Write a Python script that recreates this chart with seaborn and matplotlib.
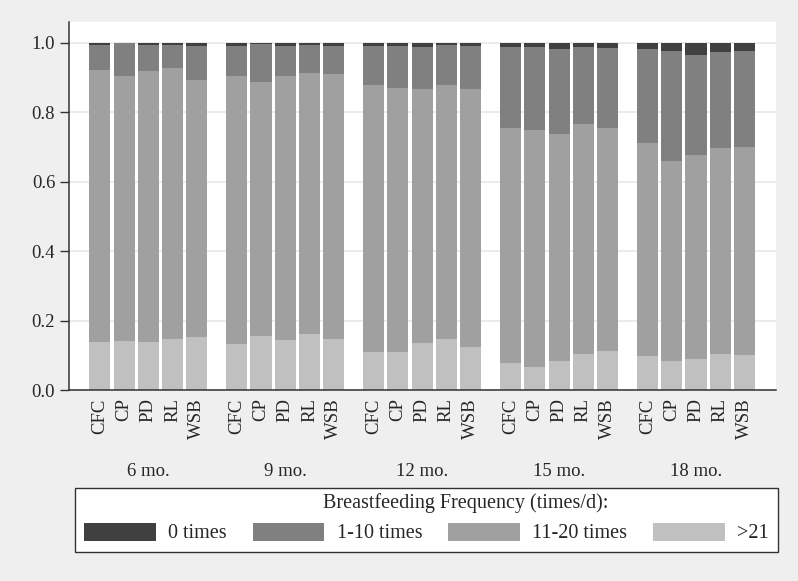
import numpy as np
import pandas as pd
import matplotlib.pyplot as plt
import seaborn as sns
from matplotlib.patches import Patch, Rectangle
import matplotlib.transforms as mtransforms

# ---- data (shares of each frequency class) ----
ages = ["6 mo.", "9 mo.", "12 mo.", "15 mo.", "18 mo."]
methods = ["CFC", "CP", "PD", "RL", "WSB"]
series = ["0 times", "1-10 times", "11-20 times", ">21"]

# order: age by age, CFC, CP, PD, RL, WSB within each age
share_0 = [0.008, 0.002, 0.008, 0.008, 0.011,
           0.011, 0.005, 0.011, 0.006, 0.010,
           0.010, 0.010, 0.012, 0.006, 0.011,
           0.013, 0.014, 0.019, 0.012, 0.016,
           0.020, 0.025, 0.036, 0.028, 0.025]
share_1_10 = [0.072, 0.093, 0.075, 0.064, 0.096,
              0.085, 0.109, 0.085, 0.083, 0.082,
              0.112, 0.120, 0.121, 0.117, 0.124,
              0.232, 0.237, 0.244, 0.222, 0.230,
              0.270, 0.316, 0.287, 0.275, 0.275]
share_11_20 = [0.782, 0.764, 0.779, 0.780, 0.740,
               0.771, 0.731, 0.759, 0.749, 0.761,
               0.769, 0.760, 0.733, 0.730, 0.740,
               0.676, 0.682, 0.654, 0.662, 0.642,
               0.613, 0.576, 0.587, 0.593, 0.600]
share_21 = [0.138, 0.141, 0.138, 0.148, 0.153,
            0.133, 0.155, 0.145, 0.162, 0.147,
            0.109, 0.110, 0.134, 0.147, 0.125,
            0.079, 0.067, 0.083, 0.104, 0.112,
            0.097, 0.083, 0.090, 0.104, 0.100]

colors = ["#404040", "#808080", "#a0a0a0", "#c0c0c0"]

# ---- layout ----
group_step = 5.646  # bar slots between the start of two age groups

rows = []
for g, age in enumerate(ages):
    for m, meth in enumerate(methods):
        rows.append({"age": age, "method": meth, "pos": g * group_step + m})
df = pd.DataFrame(rows)
df["s21"] = share_21
df["s11"] = share_11_20
df["s1"] = share_1_10
df["s0"] = share_0

# cumulative tops, drawn from the tallest down so they stack
df["c21"] = df["s21"]
df["c11"] = df["c21"] + df["s11"]
df["c1"] = df["c11"] + df["s1"]
df["c0"] = df["c1"] + df["s0"]

sns.set_style("white")
plt.rcParams["font.family"] = ["Liberation Serif", "DejaVu Serif"]

fig = plt.figure(figsize=(7.98, 5.81), dpi=100)
fig.patch.set_facecolor("#efefef")
ax = fig.add_axes([0.0865, 0.3287, 0.886, 0.634])
ax.set_facecolor("white")

for col, c in zip(["c0", "c1", "c11", "c21"], colors):
    sns.barplot(data=df, x="pos", y=col, native_scale=True, orient="x",
                color=c, saturation=1, width=0.87, errorbar=None,
                linewidth=0, ax=ax)

ax.set_xlim(-1.27, 4 * group_step + 4 + 1.30)
ax.set_ylim(0, 1.06)
ax.set_yticks(np.arange(0, 1.01, 0.2))
ax.set_yticklabels([f"{v:.1f}" for v in np.arange(0, 1.01, 0.2)], fontsize=13.5)
ax.set_xticks(df["pos"])
ax.set_xticklabels(df["method"], rotation=90, fontsize=13.5)
ax.tick_params(axis="x", length=0, pad=6)
ax.tick_params(axis="y", length=6.5, width=1, color="#333333", pad=3.5, left=True)
ax.set_xlabel("")
ax.set_ylabel("")
ax.yaxis.grid(True, color="#e8e8e8", linewidth=1.2)
ax.set_axisbelow(True)
for side in ["top", "right"]:
    ax.spines[side].set_visible(False)
for side in ["left", "bottom"]:
    ax.spines[side].set_color("#333333")
    ax.spines[side].set_linewidth(1.1)

# age group labels under each block of bars
trans = mtransforms.blended_transform_factory(ax.transData, ax.transAxes)
for g, age in enumerate(ages):
    ax.text(g * group_step + 2, -0.234, age, transform=trans, ha="center",
            va="baseline", fontsize=13.5)

# legend box, title and one row of keys
W, H = 798, 581
box = Rectangle((75 / W, 1 - 552.3 / H), 703 / W, 64.6 / H,
                transform=fig.transFigure, facecolor="white",
                edgecolor="#333333", linewidth=1.0, zorder=1)
fig.add_artist(box)
fig.text(466 / W, 1 - 503 / H, "Breastfeeding Frequency (times/d):",
         ha="center", va="center", fontsize=14.5, zorder=3)

handles = [Patch(facecolor=c, edgecolor="none") for c in colors]
leg = fig.legend(handles, series, ncol=4, loc="center",
                 bbox_to_anchor=(75 / W, 1 - 543 / H, 703 / W, 20 / H),
                 mode="expand", borderaxespad=0, frameon=False,
                 fontsize=14.5, handlelength=3.55, handleheight=1.0,
                 handletextpad=0.62, borderpad=0.45)
leg.set_zorder(3)

fig.savefig("out.png", dpi=100, facecolor=fig.get_facecolor())
